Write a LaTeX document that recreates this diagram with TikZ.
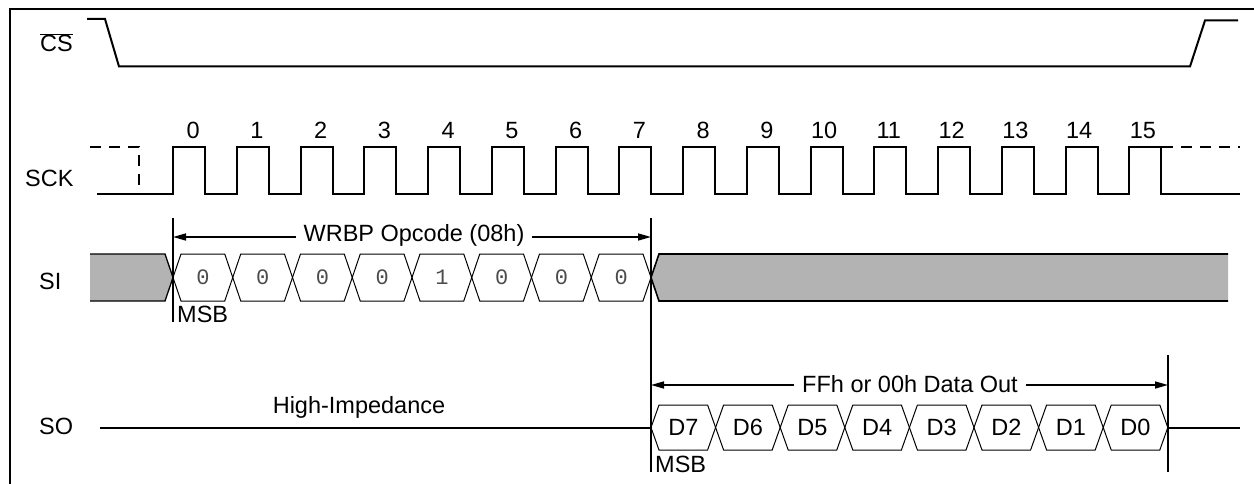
\documentclass[tikz,border=0pt]{standalone}
\usepackage{fontspec}
\setmainfont{Liberation Sans}
\newfontfamily\bitfont{Liberation Mono}
\usetikzlibrary{arrows.meta}
\definecolor{sigfill}{HTML}{B3B3B3}
\begin{document}
\begin{tikzpicture}[x=1pt,y=-1pt,
  lbl/.style={font=\fontsize{23.5}{27}\selectfont, inner sep=0pt},
  wave/.style={line width=2pt, line join=miter},
  cell/.style={line width=1pt, line join=miter},
  bit/.style={font=\bitfont\fontsize{22}{26}\selectfont, text=black!70, inner sep=0pt},
  dim/.style={line width=1.6pt, {Triangle[length=13pt,width=7pt]}-{Triangle[length=13pt,width=7pt]}},
  marker/.style={line width=1.8pt},
  dashwave/.style={line width=2pt, dash pattern=on 11pt off 8pt},
  ]
\useasboundingbox (0,0) rectangle (1254,484);
% frame
\draw[line width=2.8pt] (10,490) -- (10,9) -- (1260,9);

% labels
\node[lbl, anchor=base west] (lcs) at (40,52) {$\overline{\mbox{CS}}$};
\node[lbl, anchor=base west] (lsck) at (25,186) {SCK};
\node[lbl, anchor=base west] (lsi) at (39,289) {SI};
\node[lbl, anchor=base west] (lso) at (39,434) {SO};

% CS waveform
\draw[wave] (87,19) -- (105,19) -- (119,66.5) -- (1190,66.5) -- (1205,20.5) -- (1238,20.5);

% SCK waveform
\draw[wave] (97,194) \foreach \k in {0,...,15}{ -- ({173+63.75*\k},194) |- ({205+63.75*\k},147) -- ({205+63.75*\k},194)} -- (1240,194);
\draw[dashwave] (90,147) -- (139,147) -- (139,194);
\draw[dashwave] (1162,147) -- (1240,147);
\foreach \k in {0,...,15}
  \node[lbl, anchor=base east] (n\k) at ({200+63.75*\k},139) {\k};

% SI waveform
\fill[sigfill] (90,254) -- (165,254) -- (173,277.5) -- (165,301) -- (90,301) -- cycle;
\draw[line width=1.3pt, line join=miter] (90,254) -- (165,254) -- (173,277.5) -- (165,301) -- (90,301);
\foreach \b [count=\i from 0] in {0,0,0,0,1,0,0,0} {
  \pgfmathsetmacro\xa{173+59.75*\i}
  \pgfmathsetmacro\xb{\xa+59.75}
  \draw[cell] (\xa,277.5) -- (\xa+8,254) -- (\xb-8,254) -- (\xb,277.5) -- (\xb-8,301) -- (\xa+8,301) -- cycle;
  \node[bit] (b\i) at (\xa+29.9,277.5) {\b};
}
\fill[sigfill] (651,277.5) -- (659,254) -- (1228,254) -- (1228,301) -- (659,301) -- cycle;
\draw[line width=1.6pt, line join=miter] (1228,254) -- (659,254) -- (651,277.5) -- (659,301) -- (1228,301);

% SO waveform
\draw[wave] (100,427.5) -- (651,427.5);
\draw[wave] (1168,427.5) -- (1240,427.5);
\foreach \n [count=\i from 0] in {7,6,5,4,3,2,1,0} {
  \pgfmathsetmacro\xa{651+64.6*\i}
  \pgfmathsetmacro\xb{\xa+64.6}
  \draw[cell] (\xa,427.5) -- (\xa+8,405) -- (\xb-8,405) -- (\xb,427.5) -- (\xb-8,450) -- (\xa+8,450) -- cycle;
  \node[lbl] (d\n) at (\xa+32.3,427.5) {D\n};
}

% markers
\coordinate (m0t) at (173,218);
\coordinate (m0b) at (173,322);
\coordinate (m8t) at (651,218);
\coordinate (m8b) at (651,472);
\coordinate (e8t) at (1168,355);
\coordinate (e8b) at (1168,472);
\draw[marker] (m0t) -- (m0b);
\draw[marker] (m8t) -- (m8b);
\draw[marker] (e8t) -- (e8b);

% dimension arrows
\coordinate (wa) at (173,237);
\coordinate (wb) at (651,237);
\draw[dim] (wa) -- (wb);
\node[lbl, anchor=base, fill=white, inner xsep=8pt, inner ysep=2pt] (wrbp) at (414,241) {WRBP Opcode (08h)};
\coordinate (fa) at (651,385);
\coordinate (fb) at (1168,385);
\draw[dim] (fa) -- (fb);
\node[lbl, anchor=base, fill=white, inner xsep=8pt, inner ysep=2pt] (ffh) at (910,392) {FFh or 00h Data Out};

\node[lbl, anchor=base] (hiz) at (359,413) {High-Impedance};
\node[lbl, anchor=base west] (msb1) at (177,322) {MSB};
\node[lbl, anchor=base west] (msb2) at (655,472) {MSB};
\end{tikzpicture}
\end{document}
